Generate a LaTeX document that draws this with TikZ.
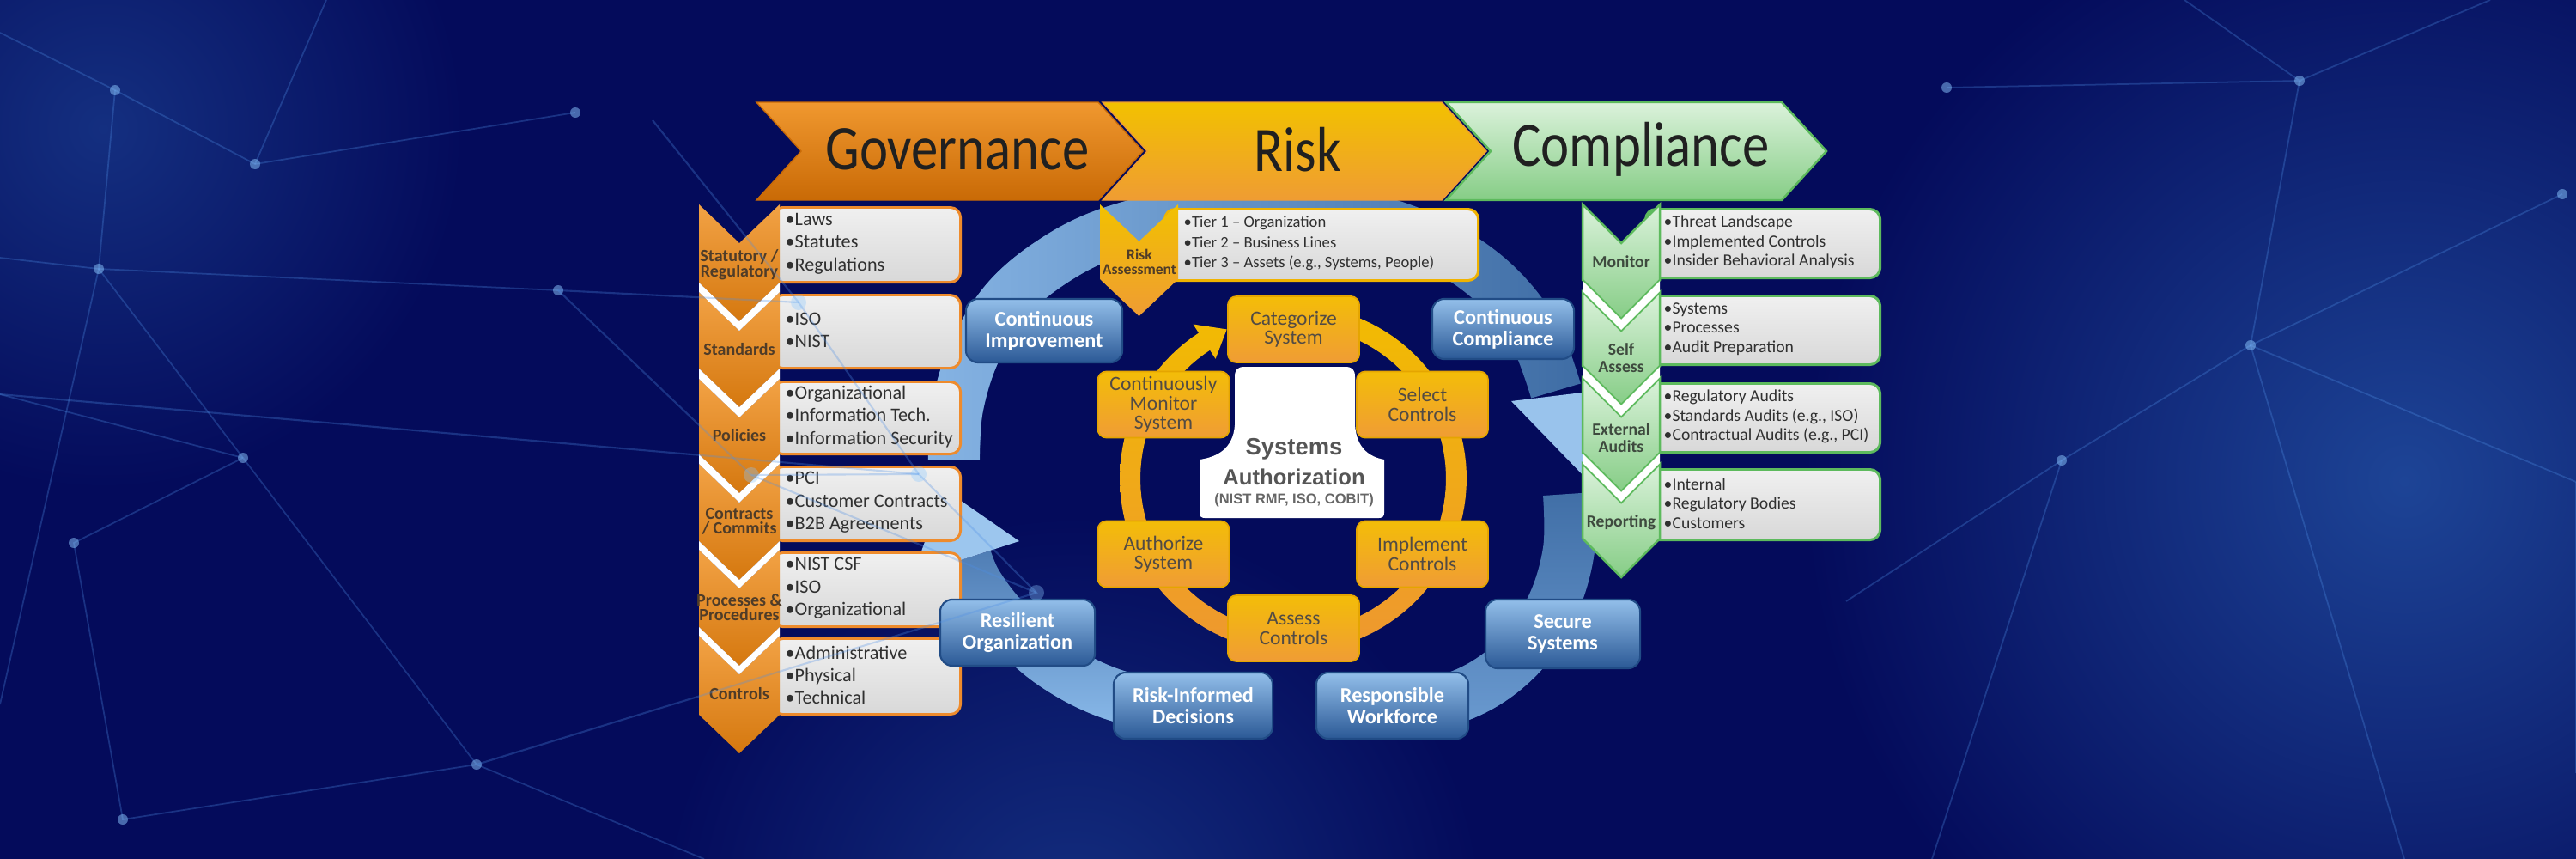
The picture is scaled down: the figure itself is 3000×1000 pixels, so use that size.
\documentclass[tikz,border=0pt]{standalone}
\usepackage{fontspec}
\usepackage{graphicx}
\setmainfont{Carlito}
\newfontfamily\arialfont{Liberation Sans}
\usetikzlibrary{fadings}

\definecolor{bgnavy}{HTML}{040B5B}
\definecolor{glowA}{HTML}{1D4496}
\definecolor{glowB}{HTML}{142F80}
\definecolor{netline}{HTML}{4F8FE6}
\definecolor{netdot}{HTML}{8CC8FF}
\definecolor{govTop}{HTML}{F0982F}
\definecolor{govBot}{HTML}{C96A06}
\definecolor{gchevTop}{HTML}{F2A245}
\definecolor{gchevBot}{HTML}{D5780F}
\definecolor{riskTop}{HTML}{F2C100}
\definecolor{riskBot}{HTML}{EF9C33}
\definecolor{compTop}{HTML}{DBF2DB}
\definecolor{compBot}{HTML}{86CD86}
\definecolor{compEdge}{HTML}{5DBA5D}
\definecolor{govLine}{HTML}{EE8B2C}
\definecolor{riskLine}{HTML}{F0B300}
\definecolor{boxTop}{HTML}{F0F0F0}
\definecolor{boxBot}{HTML}{D8D8D8}
\definecolor{txtDark}{HTML}{303030}
\definecolor{govLab}{HTML}{4F3C28}
\definecolor{compLab}{HTML}{3E4A3E}
\definecolor{ringTop}{HTML}{F2BC00}
\definecolor{ringBot}{HTML}{EE9730}
\definecolor{rbTop}{HTML}{F3BD08}
\definecolor{rbBot}{HTML}{F09C35}
\definecolor{rbEdge}{HTML}{E5A500}
\definecolor{rbText}{HTML}{524B44}
\definecolor{bbTop}{HTML}{93BFEA}
\definecolor{bbBot}{HTML}{2B5996}
\definecolor{bbEdge}{HTML}{214C86}
\definecolor{bandAd}{HTML}{4A78B0}
\definecolor{bandAl}{HTML}{8CBCEC}
\definecolor{bandBd}{HTML}{3F6DA5}
\definecolor{bandBl}{HTML}{86B4E4}
\definecolor{bandCd}{HTML}{3D6BA3}
\definecolor{bandCl}{HTML}{6C9CD2}
\definecolor{headL}{HTML}{9CC6EE}
\definecolor{saText}{HTML}{555555}
\definecolor{hText}{HTML}{202020}

\newcommand{\chevdown}[6]{\path[#1] (#2,#4) -- ({(#2+#3)/2},{#4+#6}) -- (#3,#4) -- (#3,#5) -- ({(#2+#3)/2},{#5+#6}) -- (#2,#5) -- cycle;}
\newcommand{\chevgap}[5]{\fill[white] (#1,#3) -- ({(#1+#2)/2},{#3+#5}) -- (#2,#3) -- (#2,#4) -- ({(#1+#2)/2},{#4+#5}) -- (#1,#4) -- cycle;}

\tikzset{
  hgov/.style={top color=govTop, bottom color=govBot, draw=govBot, line width=0.4pt},
  hrisk/.style={top color=riskTop, bottom color=riskBot, draw=riskBot, line width=0.4pt},
  hcomp/.style={top color=compTop, bottom color=compBot, draw=compEdge, line width=0.7pt},
  htext/.style={font=\fontsize{21}{21}\selectfont, text=hText, inner sep=0pt},
  gchev/.style={top color=gchevTop, bottom color=gchevBot},
  rchev/.style={top color=riskTop, bottom color=riskBot},
  cchev/.style={top color=compTop, bottom color=compBot, draw=compEdge, line width=0.7pt},
  gbox/.style={draw=govLine, line width=0.85pt, top color=boxTop, bottom color=boxBot, rounded corners=0.12cm, inner sep=0pt, anchor=north west},
  rkbox/.style={draw=riskLine, line width=0.85pt, top color=boxTop, bottom color=boxBot, rounded corners=0.12cm, inner sep=0pt, anchor=north west},
  cbox/.style={draw=compEdge, line width=0.85pt, top color=boxTop, bottom color=boxBot, rounded corners=0.12cm, inner sep=0pt, anchor=north west},
  glab/.style={font=\bfseries\fontsize{5.7}{5.0}\selectfont, text=govLab, align=center, inner sep=0pt},
  clab/.style={font=\bfseries\fontsize{5.6}{5.7}\selectfont, text=compLab, align=center, inner sep=0pt},
  rlab/.style={font=\bfseries\fontsize{5.0}{4.7}\selectfont, text=govLab, align=center, inner sep=0pt},
  gtxt/.style={font=\fontsize{6.3}{7.5}\selectfont, text=txtDark, align=left, inner sep=0pt, anchor=west},
  ctxt/.style={font=\fontsize{5.6}{6.4}\selectfont, text=txtDark, align=left, inner sep=0pt, anchor=west},
  rtxt/.style={font=\fontsize{5.3}{6.7}\selectfont, text=txtDark, align=left, inner sep=0pt, anchor=west},
  rbox/.style={top color=rbTop, bottom color=rbBot, draw=rbEdge, line width=0.5pt, rounded corners=0.1cm,
    minimum width=1.53cm, minimum height=0.77cm, inner sep=0pt, align=center, text=rbText,
    font=\fontsize{6.7}{6.4}\selectfont},
  bbox/.style={top color=bbTop, bottom color=bbBot, draw=bbEdge, line width=0.6pt, rounded corners=0.14cm,
    inner sep=0pt, align=center, text=white, font=\bfseries\fontsize{6.9}{7.1}\selectfont},
  band/.style={line width=0.6cm},
  net/.style={draw=netline, line width=0.5pt, opacity=0.3},
  netover/.style={draw=netline, line width=0.6pt, opacity=0.3},
  dot/.style={fill=netdot, opacity=0.5},
}

\begin{document}
\begin{tikzpicture}[x=0.01cm,y=-0.01cm]
\useasboundingbox (0,0) rectangle (3000,1000);
% ---------- background ----------
\fill[bgnavy] (0,0) rectangle (3000,1000);
\shade[inner color=glowA, outer color=bgnavy] (2800,560) circle (700);
\shade[inner color=glowB, outer color=bgnavy] (120,150) circle (420);
\shade[inner color=glowB, outer color=bgnavy] (1250,1080) circle (480);

% network (decorative)
\coordinate (p0) at (0,38);   \coordinate (p1) at (134,105); \coordinate (p2) at (297,191);
\coordinate (p3) at (670,131); \coordinate (p4) at (115,313); \coordinate (p5) at (650,338);
\coordinate (p6) at (283,533); \coordinate (p7) at (86,632);  \coordinate (p8) at (555,890);
\coordinate (p9) at (143,954); \coordinate (pa) at (0,459);   \coordinate (pb) at (820,1000);
\coordinate (pc) at (380,0);   \coordinate (pd) at (0,300);   \coordinate (pe) at (0,820);
\coordinate (q1) at (2267,102); \coordinate (q2) at (2678,94); \coordinate (q3) at (2621,402);
\coordinate (q4) at (2984,226); \coordinate (q5) at (2401,536); \coordinate (q6) at (2544,0);
\coordinate (q7) at (3000,561); \coordinate (q8) at (2250,1000); \coordinate (q9) at (2800,1000);
\coordinate (qa) at (2900,0);   \coordinate (qb) at (2150,700); \coordinate (qc) at (3000,900);
\draw[net] (p0) -- (p1) -- (p2) -- (p3);
\draw[net] (p1) -- (p4) -- (p5);
\draw[net] (p4) -- (p6) -- (p7) -- (p9) -- (p8) -- (p6);
\draw[net] (pa) -- (p6);
\draw[net] (p8) -- (pb);
\draw[net] (p2) -- (pc);
\draw[net] (pd) -- (p4) -- (pe);
\draw[net] (q1) -- (q2) -- (q6);
\draw[net] (q2) -- (qa);
\draw[net] (q2) -- (q3) -- (q4);
\draw[net] (q3) -- (q5) -- (q8);
\draw[net] (q3) -- (q7);
\draw[net] (q3) -- (q9);
\draw[net] (q5) -- (qb);
\draw[net] (q7) -- (qc);
\foreach \c in {p1,p2,p3,p4,p5,p6,p7,p8,p9,q1,q2,q3,q4,q5}{\fill[dot] (\c) circle (6);}

% ---------- big blue cycle ----------
\def\bandBpath{plot[smooth, tension=0.6] coordinates {(1111,535) (1115,475) (1135,410) (1172,350) (1225,305) (1290,272) (1380,250) (1480,243) (1580,252) (1665,280) (1735,325) (1785,385) (1812,455)}}
\def\bandApath{plot[smooth, tension=0.6] coordinates {(1470,828) (1380,825) (1295,808) (1225,772) (1170,722) (1138,680) (1125,650)}}
\def\bandCpath{plot[smooth, tension=0.6] coordinates {(1827,575) (1827,640) (1808,705) (1770,763) (1712,805) (1635,826) (1545,830)}}
\draw[band, bandBd] \bandBpath;
\draw[band, bandBl, path fading=east] \bandBpath;
\draw[band, bandAd] \bandApath;
\draw[band, bandAl, path fading=north] \bandApath;
\draw[band, bandCd] \bandCpath;
\draw[band, bandCl, path fading=north] \bandCpath;
\fill[headL] (1187,630) -- (1099,569) -- (1063,670) -- cycle;
\fill[headL!85!bandBl] (1760,467) -- (1852,562) -- (1884,452) -- cycle;

% ---------- header ----------
\path[hgov]  (881,119) -- (1279,119) -- (1331,176) -- (1279,233) -- (881,233) -- (933,176) -- cycle;
\path[hrisk] (1284,119) -- (1679,119) -- (1731,176) -- (1679,233) -- (1284,233) -- (1336,176) -- cycle;
\path[hcomp] (1684,119) -- (2075,119) -- (2127,176) -- (2075,233) -- (1684,233) -- (1736,176) -- cycle;
\node[htext] (hG) at (1115,174) {\scalebox{0.85}[1]{Governance}};
\node[htext] (hR) at (1511,174) {\scalebox{0.85}[1]{Risk}};
\node[htext] (hC) at (1911,174) {\scalebox{0.85}[1]{Compliance}};

% ---------- governance column ----------
\node[gbox, minimum width=2.19cm, minimum height=0.87cm] (gb1) at (898,240) {};
\node[gbox, minimum width=2.19cm, minimum height=0.85cm] (gb2) at (898,342) {};
\node[gbox, minimum width=2.19cm, minimum height=0.84cm] (gb3) at (898,443) {};
\node[gbox, minimum width=2.19cm, minimum height=0.86cm] (gb4) at (898,542) {};
\node[gbox, minimum width=2.19cm, minimum height=0.86cm] (gb5) at (898,642) {};
\node[gbox, minimum width=2.19cm, minimum height=0.88cm] (gb6) at (898,742) {};
\chevdown{gchev}{814}{908}{238}{329}{45}
\chevdown{gchev}{814}{908}{340}{429}{45}
\chevdown{gchev}{814}{908}{441}{529}{45}
\chevdown{gchev}{814}{908}{540}{630}{45}
\chevdown{gchev}{814}{908}{640}{730}{45}
\chevdown{gchev}{814}{908}{740}{832}{45}
\chevgap{814}{908}{329}{340}{45}
\chevgap{814}{908}{429}{441}{45}
\chevgap{814}{908}{529}{540}{45}
\chevgap{814}{908}{630}{640}{45}
\chevgap{814}{908}{730}{740}{45}
\node[glab] (gl1) at (861,308) {Statutory /\\Regulatory};
\node[glab] (gl2) at (861,407) {Standards};
\node[glab] (gl3) at (861,507) {Policies};
\node[glab] (gl4) at (861,607) {Contracts\\/ Commits};
\node[glab] (gl5) at (861,707) {Processes \&\\Procedures};
\node[glab] (gl6) at (861,808) {Controls};
\node[gtxt] (gt1) at (914,283.5) {•Laws\\•Statutes\\•Regulations};
\node[gtxt] (gt2) at (914,384.5) {•ISO\\•NIST};
\node[gtxt] (gt3) at (914,485) {•Organizational\\•Information Tech.\\•Information Security};
\node[gtxt] (gt4) at (914,585) {•PCI\\•Customer Contracts\\•B2B Agreements};
\node[gtxt] (gt5) at (914,685) {•NIST CSF\\•ISO\\•Organizational};
\node[gtxt] (gt6) at (914,786) {•Administrative\\•Physical\\•Technical};

% ---------- risk column ----------
\node[rkbox, minimum width=3.65cm, minimum height=0.83cm] (rb1) at (1355,242) {};
\chevdown{rchev}{1281}{1372}{238}{325}{43}
\node[rlab] (rl1) at (1327,305) {Risk\\Assessment};
\node[rtxt] (rt1) at (1378,283.5) {•Tier 1 – Organization\\•Tier 2 – Business Lines\\•Tier 3 – Assets (e.g., Systems, People)};

% ---------- compliance column ----------
\node[cbox, minimum width=2.73cm, minimum height=0.80cm] (cb1) at (1915,242) {};
\node[cbox, minimum width=2.73cm, minimum height=0.80cm] (cb2) at (1915,343) {};
\node[cbox, minimum width=2.73cm, minimum height=0.80cm] (cb3) at (1915,445) {};
\node[cbox, minimum width=2.73cm, minimum height=0.82cm] (cb4) at (1915,545) {};
\chevdown{cchev}{1843}{1933}{238}{326}{45}
\chevdown{cchev}{1843}{1933}{340}{426}{45}
\chevdown{cchev}{1843}{1933}{440}{527}{45}
\chevdown{cchev}{1843}{1933}{540}{627}{45}
\chevgap{1843}{1933}{327}{339}{45}
\chevgap{1843}{1933}{427}{439}{45}
\chevgap{1843}{1933}{528}{539}{45}
\node[clab] (cl1) at (1888,305) {Monitor};
\node[clab] (cl2) at (1888,417) {Self\\Assess};
\node[clab] (cl3) at (1888,510) {External\\Audits};
\node[clab] (cl4) at (1888,608) {Reporting};
\node[ctxt] (ct1) at (1937,282) {•Threat Landscape\\•Implemented Controls\\•Insider Behavioral Analysis};
\node[ctxt] (ct2) at (1937,383) {•Systems\\•Processes\\•Audit Preparation};
\node[ctxt] (ct3) at (1937,485) {•Regulatory Audits\\•Standards Audits (e.g., ISO)\\•Contractual Audits (e.g., PCI)};
\node[ctxt] (ct4) at (1937,586) {•Internal\\•Regulatory Bodies\\•Customers};

% ---------- orange RMF ring ----------
\shade[top color=ringTop, bottom color=ringBot]
  plot[domain=250:597, samples=120] ({1506+202*cos(\x)},{557+202*sin(\x)})
  -- (1389.5,377.5) -- (1428.7,383.4) -- (1415.6,417.8)
  -- plot[domain=597:250, samples=120] ({1506+178*cos(\x)},{557+178*sin(\x)}) -- cycle;

\node[rbox] (cat) at (1506.5,383.5) {Categorize\\System};
\node[rbox] (sel) at (1656.5,471) {Select\\Controls};
\node[rbox] (imp) at (1656.5,645) {Implement\\Controls};
\node[rbox] (ass) at (1506.5,731.5) {Assess\\Controls};
\node[rbox] (aut) at (1355,645) {Authorize\\System};
\node[rbox] (mon) at (1355,471) {Continuously\\Monitor\\System};

% centre panel
\fill[white] (1438,495) -- (1438,439) .. controls (1438,430) and (1441,427) .. (1450,427)
  -- (1566,427) .. controls (1575,427) and (1578,430) .. (1578,439)
  -- (1578,495) .. controls (1580,522) and (1595,532) .. (1612,535)
  -- (1612,597) .. controls (1612,601) and (1610,603) .. (1606,603)
  -- (1403,603) .. controls (1399,603) and (1397,601) .. (1397,597)
  -- (1397,535) .. controls (1418,532) and (1436,522) .. (1438,495) -- cycle;
\node[font=\arialfont\bfseries\fontsize{7.8}{8}\selectfont, text=saText, inner sep=0pt] (sa1) at (1507,523) {Systems};
\node[font=\arialfont\bfseries\fontsize{7.3}{8}\selectfont, text=saText, inner sep=0pt] (sa2) at (1507,555) {Authorization};
\node[font=\arialfont\bfseries\fontsize{4.7}{5}\selectfont, text=saText!90, inner sep=0pt] (sa3) at (1507,582) {(NIST RMF, ISO, COBIT)};

% ---------- blue outcome boxes ----------
\node[bbox, minimum width=1.82cm, minimum height=0.74cm] (ci) at (1216,385) {Continuous\\Improvement};
\node[bbox, minimum width=1.65cm, minimum height=0.70cm] (cc) at (1750.5,383) {Continuous\\Compliance};
\node[bbox, minimum width=1.80cm, minimum height=0.77cm] (ro) at (1185,736.5) {Resilient\\Organization};
\node[bbox, minimum width=1.80cm, minimum height=0.80cm] (ss) at (1820,738) {Secure\\Systems};
\node[bbox, minimum width=1.85cm, minimum height=0.77cm] (rid) at (1389.5,821.5) {Risk-Informed\\Decisions};
\node[bbox, minimum width=1.77cm, minimum height=0.77cm] (rw) at (1621.5,821.5) {Responsible\\Workforce};

% ---------- network overlay on the left column ----------
\coordinate (o1) at (930,352); \coordinate (o2) at (1070,552); \coordinate (o3) at (875,553);
\coordinate (o4) at (1207,690); \coordinate (o5) at (760,140);
\draw[netover] (o5) -- (o1) -- (o2) -- (o4) -- (p8);
\draw[netover] (p5) -- (o1);
\draw[netover] (p5) -- (o3) -- (o2);
\draw[netover] (pa) -- (o2);
\draw[netover] (o3) -- (o4);
\foreach \c in {o1,o2,o3,o4}{\fill[netdot, opacity=0.35] (\c) circle (9);}
\end{tikzpicture}
\end{document}
